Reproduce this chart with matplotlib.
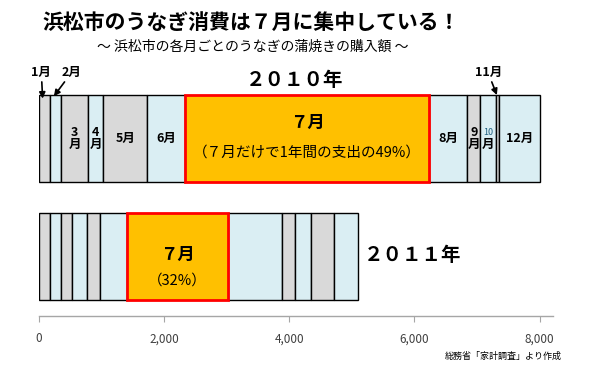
import numpy as np
import matplotlib.pyplot as plt

plt.rcParams['font.family'] = ['Noto Sans CJK JP', 'DejaVu Sans']

# monthly spending on kabayaki eel (yen)
months = ['1月', '2月', '3月', '4月', '5月', '6月', '7月', '8月', '9月', '10月', '11月', '12月']
spend_2010 = [185, 176, 431, 240, 703, 607, 3898, 607, 207, 251, 48, 660]
spend_2011 = [176, 175, 176, 240, 207, 432, 1618, 867, 208, 246, 367, 394]
year_labels = ['２０１０年', '２０１１年']
july_notes = ['（７月だけで1年間の支出の49%）', '（32%）']
xticks = [0, 2000, 4000, 6000, 8000]

GRAY = '#D9D9D9'
BLUE = '#DAEEF3'
ORANGE = '#FFC000'
colors = [GRAY if i % 2 == 0 else BLUE for i in range(12)]
colors[6] = ORANGE

fig = plt.figure(figsize=(5.98, 3.68), dpi=100)
ax = fig.add_axes([0.0647, 0.1421, 0.8595, 0.6948])

rows = [1, 0]
h = 0.74
for y, vals in zip(rows, [spend_2010, spend_2011]):
    vals = np.array(vals)
    lefts = np.concatenate([[0], np.cumsum(vals)[:-1]])
    for i in range(12):
        if i == 6:
            ax.barh(y, vals[i], left=lefts[i], height=h, color=colors[i],
                    edgecolor='red', linewidth=2, zorder=3)
        else:
            ax.barh(y, vals[i], left=lefts[i], height=h, color=colors[i],
                    edgecolor='black', linewidth=1, zorder=2)

ax.set_xlim(0, 8210)
ax.set_ylim(-0.5, 1.667)

# centres of each month segment
v10 = np.array(spend_2010)
c10 = np.cumsum(v10) - v10 / 2
v11 = np.array(spend_2011)
c11 = np.cumsum(v11) - v11 / 2

fs = 9
fw = 'bold'
# horizontal labels inside the 2010 bar
for i in [4, 5, 7, 11]:
    ax.text(c10[i], 1.0, months[i], ha='center', va='center', fontsize=fs,
            fontweight=fw, zorder=5)
# stacked vertical labels
for i in [2, 3, 8]:
    ax.text(c10[i], 1.0, months[i][:-1] + '\n月', ha='center', va='center',
            fontsize=fs, fontweight=fw, linespacing=0.85, zorder=5)
ax.text(c10[9], 1.05, '10', ha='center', va='center', fontsize=6.5,
        color='#1F6080', zorder=5)
ax.text(c10[9], 0.95, '月', ha='center', va='center', fontsize=fs,
        fontweight=fw, zorder=5)

# arrowed labels above the bar
arrow_kw = dict(arrowstyle='-|>', color='black', lw=1.2, mutation_scale=9,
                shrinkA=0, shrinkB=0)
ax.annotate(months[0], xy=(c10[0] - 30, 1.34), xytext=(c10[0] - 50, 1.56),
            ha='center', va='center', fontsize=fs, fontweight=fw, arrowprops=arrow_kw)
ax.annotate(months[1], xy=(c10[1] - 30, 1.36), xytext=(c10[1] + 250, 1.56),
            ha='center', va='center', fontsize=fs, fontweight=fw, arrowprops=arrow_kw)
ax.annotate(months[10], xy=(c10[10] - 10, 1.37), xytext=(c10[10] - 150, 1.56),
            ha='center', va='center', fontsize=fs, fontweight=fw, arrowprops=arrow_kw)

# July notes
ax.text(c10[6], 1.13, '７月', ha='center', va='center', fontsize=12.5,
        fontweight='bold', zorder=5)
ax.text(c10[6], 0.885, july_notes[0], ha='center', va='center', fontsize=10.5, zorder=5)
ax.text(c11[6], 0.014, '７月', ha='center', va='center', fontsize=12.5,
        fontweight='bold', zorder=5)
ax.text(c11[6], -0.2, july_notes[1], ha='center', va='center', fontsize=10.5, zorder=5)

# year labels
ax.text(4094, 1.497, year_labels[0], ha='center', va='center', fontsize=14,
        fontweight='bold')
ax.text(sum(spend_2011) + 80, 0.014, year_labels[1], ha='left', va='center',
        fontsize=14, fontweight='bold')

# axis styling
for s in ['top', 'right', 'left']:
    ax.spines[s].set_visible(False)
ax.spines['bottom'].set_color('#A6A6A6')
ax.spines['bottom'].set_linewidth(1)
ax.set_yticks([])
ax.set_xticks(xticks)
ax.set_xticklabels([f'{t:,}' for t in xticks])
ax.tick_params(axis='x', length=4, color='#A6A6A6', labelsize=8.5,
               labelcolor='#404040', pad=8)

fig.text(0.42, 0.94, '浜松市のうなぎ消費は７月に集中している！', ha='center',
         va='center', fontsize=15, fontweight='bold')
fig.text(0.422, 0.872, '～ 浜松市の各月ごとのうなぎの蒲焼きの購入額 ～', ha='center',
         va='center', fontsize=10)
fig.text(0.94, 0.033, '総務省「家計調査」より作成', ha='right', va='center', fontsize=6.5)

fig.savefig('out.png', dpi=100)
